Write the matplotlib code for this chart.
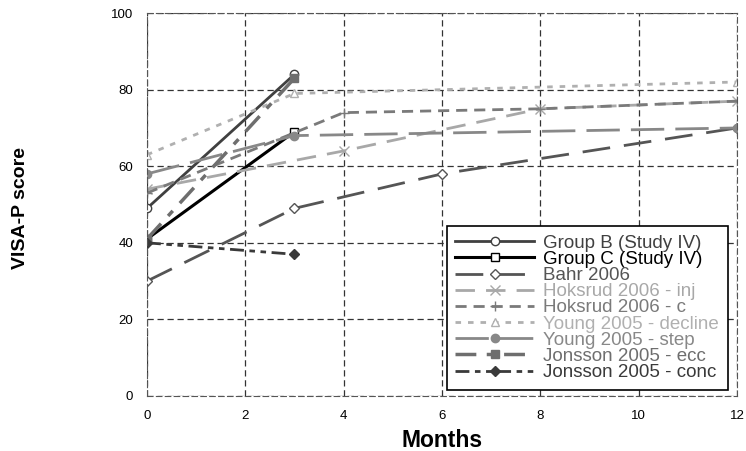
import matplotlib.pyplot as plt
import numpy as np

# data (months, VISA-P score)
groupb_x = [0, 3]
groupb_y = [49, 84]
groupc_x = [0, 3]
groupc_y = [41, 69]
bahr_x = [0, 3, 6, 12]
bahr_y = [30, 49, 58, 70]
hok_inj_x = [0, 4, 8, 12]
hok_inj_y = [54, 64, 75, 77]
hok_c_x = [0, 4, 8, 12]
hok_c_y = [53, 74, 75, 77]
young_dec_x = [0, 3, 12]
young_dec_y = [63, 79, 82]
young_step_x = [0, 3, 12]
young_step_y = [58, 68, 70]
jon_ecc_x = [0, 3]
jon_ecc_y = [41, 83]
jon_conc_x = [0, 3]
jon_conc_y = [40, 37]

plt.rcParams['font.family'] = ['Liberation Sans', 'DejaVu Sans']

fig = plt.figure(figsize=(7.46, 4.51), dpi=100)
ax = fig.add_axes([0.197, 0.122, 0.791, 0.849])

ax.plot(groupb_x, groupb_y, color='#404040', lw=2, marker='o', mfc='white', ms=6, label='Group B (Study IV)')
ax.plot(groupc_x, groupc_y, color='black', lw=2.2, marker='s', mfc='white', ms=6, label='Group C (Study IV)')
ax.plot(bahr_x, bahr_y, color='#555555', lw=2, dashes=(10, 5), marker='D', mfc='white', ms=5, label='Bahr 2006')
ax.plot(hok_inj_x, hok_inj_y, color='#a8a8a8', lw=2, dashes=(7, 4), marker='x', ms=7, label='Hoksrud 2006 - inj')
ax.plot(hok_c_x, hok_c_y, color='#7a7a7a', lw=2, dashes=(4, 2.5), marker='+', ms=7, label='Hoksrud 2006 - c')
ax.plot(young_dec_x, young_dec_y, color='#b0b0b0', lw=2, dashes=(2, 2.5), marker='^', mfc='white', ms=6, label='Young 2005 - decline')
ax.plot(young_step_x, young_step_y, color='#888888', lw=2, dashes=(12, 4), marker='o', ms=6, label='Young 2005 - step')
ax.plot(jon_ecc_x, jon_ecc_y, color='#6e6e6e', lw=2.5, dashes=(6, 3, 2, 3), marker='s', ms=6, label='Jonsson 2005 - ecc')
ax.plot(jon_conc_x, jon_conc_y, color='#3a3a3a', lw=2, dashes=(5, 2, 2, 2, 2, 2), marker='D', ms=5, label='Jonsson 2005 - conc')

ax.set_xlim(0, 12)
ax.set_ylim(0, 100)
ax.set_xticks(np.arange(0, 13, 2))
ax.set_yticks(np.arange(0, 101, 20))
ax.grid(True, color='#333333', ls=(0, (5, 3)), lw=0.9)
for s in ax.spines.values():
    s.set_linestyle((0, (5, 3)))
    s.set_color('#555555')
ax.tick_params(length=0, labelsize=9.5, pad=10)

ax.set_xlabel('Months', fontsize=16.5, fontweight='bold', va='center')
ax.xaxis.set_label_coords(0.5, -0.115)
ax.set_ylabel('VISA-P score', fontsize=14, fontweight='bold', va='center')
ax.yaxis.set_label_coords(-0.215, 0.49)

leg = ax.legend(loc='lower right', bbox_to_anchor=(1.0, -0.008), fontsize=13.5, handlelength=4.2,
                labelspacing=-0.05, fancybox=False, edgecolor='black', framealpha=1,
                labelcolor='linecolor', borderpad=0.45, handletextpad=0.5)
leg.get_frame().set_linewidth(1.2)

fig.savefig('out.png', dpi=100)
